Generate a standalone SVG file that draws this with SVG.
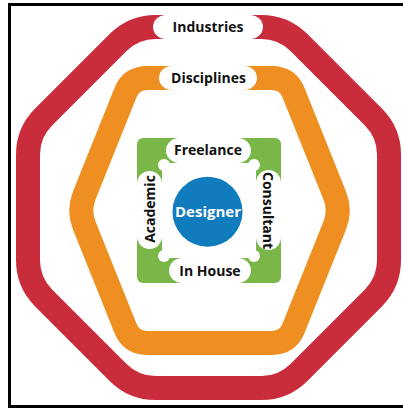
<svg xmlns="http://www.w3.org/2000/svg" width="403" height="408" viewBox="0 0 403 408">
<style>
.lbl{font-family:"Open Sans","Noto Sans","Liberation Sans",sans-serif;font-weight:700;font-size:14px;fill:#111;text-anchor:middle}
.pill{fill:#fff}
.ring{fill:none;stroke-width:24;stroke-linejoin:round}
</style>
<rect x="0" y="0" width="403" height="408" fill="#fff"/>
<rect x="9.5" y="4.5" width="400" height="402" fill="none" stroke="#000" stroke-width="3"/>
<g id="industries">
<path class="ring" stroke="#c92d3b" d="M155.7,27 L261.3,27 Q283.3,27 298.9,42.6 L373.4,117.1 Q389,132.7 389,154.7 L389,260.3 Q389,282.3 373.4,297.9 L298.9,372.4 Q283.3,388 261.3,388 L155.7,388 Q133.7,388 118.1,372.4 L43.6,297.9 Q28,282.3 28,260.3 L28,154.7 Q28,132.7 43.6,117.1 L118.1,42.6 Q133.7,27 155.7,27 Z"/>
<rect class="pill" x="153" y="15" width="110" height="24" rx="13" ry="12"/>
<text class="lbl" x="208" y="32">Industries</text>
</g>
<g id="disciplines">
<path class="ring" stroke="#ef8f22" d="M147.3,78 L271.7,78 Q287.7,78 293.6,92.85 L334.8,195.65 Q340.7,210.5 334.8,225.35 L293.6,328.15 Q287.7,343 271.7,343 L147.3,343 Q131.3,343 125.4,328.15 L84.2,225.35 Q78.3,210.5 84.2,195.65 L125.4,92.85 Q131.3,78 147.3,78 Z"/>
<rect class="pill" x="159" y="66" width="98" height="24" rx="13" ry="12"/>
<text class="lbl" x="208.5" y="82.5">Disciplines</text>
</g>
<g id="work-modes">
<rect x="137" y="138" width="144" height="145" rx="6" fill="#7ab648"/>
<rect class="pill" x="162" y="163" width="94" height="95" rx="6"/>
<circle class="pill" cx="164" cy="165" r="6"/>
<circle class="pill" cx="254" cy="165" r="6"/>
<circle class="pill" cx="164" cy="256" r="6"/>
<circle class="pill" cx="254" cy="256" r="6"/>
<rect class="pill" x="166" y="138" width="85" height="25" rx="13" ry="12.5"/>
<rect class="pill" x="169" y="258" width="82" height="25" rx="13" ry="12.5"/>
<rect class="pill" x="137" y="171" width="25" height="78" rx="12.5" ry="13"/>
<rect class="pill" x="256" y="170" width="25" height="80" rx="12.5" ry="13"/>
</g>
<g id="freelance"><text class="lbl" x="208" y="155">Freelance</text></g>
<g id="in-house"><text class="lbl" x="210" y="276">In House</text></g>
<g id="academic"><text class="lbl" transform="translate(155,209) rotate(-90)">Academic</text></g>
<g id="consultant"><text class="lbl" transform="translate(263,210.5) rotate(90)">Consultant</text></g>
<g id="designer">
<circle cx="207.5" cy="211.7" r="35" fill="#107bbd"/>
<text class="lbl" x="208" y="216.5" style="fill:#fff;font-size:15px">Designer</text>
</g>
<g id="connectors"/>
</svg>
